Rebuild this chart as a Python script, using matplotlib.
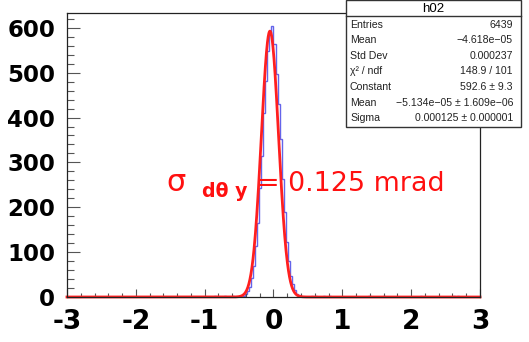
import numpy as np
import matplotlib
matplotlib.use("Agg")
import matplotlib.pyplot as plt
from matplotlib.patches import Rectangle
from matplotlib.lines import Line2D

plt.rcParams['axes.unicode_minus'] = False

# histogram binning (mrad), 200 bins
bin_edges = np.linspace(-3, 3, 201)

# bins around the peak: centers and counts
peak_centers = [-0.555, -0.525, -0.495, -0.465, -0.435, -0.405, -0.375, -0.345,
                -0.315, -0.285, -0.255, -0.225, -0.195, -0.165, -0.135, -0.105,
                -0.075, -0.045, -0.015, 0.015, 0.045, 0.075, 0.105, 0.135,
                0.165, 0.195, 0.225, 0.255, 0.285, 0.315, 0.345, 0.375,
                0.405, 0.435, 0.465]
peak_counts = [0, 0, 1, 1, 3, 6, 13, 22,
               43, 68, 114, 165, 242, 315, 410, 482,
               548, 584, 603, 565, 498, 430, 352, 262,
               190, 122, 81, 47, 28, 15, 7, 4,
               2, 1, 1]

# a few small tail bins
tail_centers = [-0.855, -0.705, -0.585, 0.555, 0.615, 0.735, 0.825,
                1.395, 1.605, 2.145, 2.625, 2.685]
tail_counts = [2, 3, 2, 3, 2, 3, 2, 2, 2, 2, 3, 2]

# gaus fit parameters from the stats box (converted to mrad)
fit_const = 592.6
fit_mean = -5.134e-05 * 1000
fit_sigma = 0.000125 * 1000

# stats box rows
stat_names = ["Entries", "Mean", "Std Dev", "χ² / ndf", "Constant", "Mean", "Sigma"]
stat_values = ["6439", "−4.618e−05", "0.000237", "148.9 / 101", "592.6 ± 9.3",
               "−5.134e−05 ± 1.609e−06", "0.000125 ± 0.000001"]

x_ticks = [-3, -2, -1, 0, 1, 2, 3]
y_ticks = [0, 100, 200, 300, 400, 500, 600]

W, H = 529, 342


def fx(px):
    # pixel -> figure fraction
    return px / W


def fy(py):
    return 1 - py / H


fig = plt.figure(figsize=(W / 100, H / 100), dpi=100)
ax = fig.add_axes([fx(67), fy(297), fx(480) - fx(67), fy(13) - fy(297)])

counts, _ = np.histogram(peak_centers + tail_centers, bins=bin_edges,
                         weights=peak_counts + tail_counts)
ax.stairs(counts, bin_edges, color='#6464ea', lw=1.0)

xf = np.linspace(-3, 3, 1200)
yf = fit_const * np.exp(-0.5 * ((xf - fit_mean) / fit_sigma) ** 2)
ax.plot(xf, yf, color='#ff1f1f', lw=2.0, clip_on=False)

ax.set_xlim(-3, 3)
ax.set_ylim(0, 633)

# ROOT style ticks
ax.set_xticks(x_ticks)
ax.set_xticks(np.arange(-3, 3.01, 0.2), minor=True)
ax.set_yticks(y_ticks)
ax.set_yticks(np.arange(0, 633, 20), minor=True)
ax.set_xticklabels([str(t) for t in x_ticks])
ax.set_yticklabels([str(t) for t in y_ticks])
ax.tick_params(axis='both', which='both', direction='in', color='#555555', width=0.8)
ax.tick_params(axis='x', which='major', length=5.8, pad=8.6)
ax.tick_params(axis='x', which='minor', length=2.9)
ax.tick_params(axis='y', which='major', length=9.2, pad=8.4)
ax.tick_params(axis='y', which='minor', length=5.2)
for lab in ax.get_xticklabels():
    lab.set_fontfamily('DejaVu Sans')
    lab.set_fontweight('bold')
    lab.set_fontsize(19)
for lab in ax.get_yticklabels():
    lab.set_fontfamily('DejaVu Sans')
    lab.set_fontweight('bold')
    lab.set_fontsize(16.5)
for sp in ax.spines.values():
    sp.set_linewidth(0.9)
    sp.set_color('#222222')

# red annotation
fig.text(fx(166), fy(191), "σ", color='#ff1010', fontsize=22, family='DejaVu Sans',
         va='baseline', zorder=5)
fig.text(fx(202), fy(197), "dθ y", color='#ff1010', fontsize=13.6, family='DejaVu Sans',
         fontweight='bold', va='baseline', zorder=5)
fig.text(fx(257), fy(191), "= 0.125 mrad", color='#ff1010', fontsize=19.4,
         family='DejaVu Sans', va='baseline', zorder=5)

# stats box
bx0, bx1, by0, by1 = 346, 521, 0, 127
fig.add_artist(Rectangle((fx(bx0), fy(by1)), fx(bx1) - fx(bx0), fy(by0) - fy(by1),
                         transform=fig.transFigure, facecolor='white',
                         edgecolor='#333333', lw=1.0, zorder=6))
fig.add_artist(Line2D([fx(bx0), fx(bx1)], [fy(16), fy(16)], transform=fig.transFigure,
                      color='#333333', lw=1.0, zorder=7))
fig.text(fx((bx0 + bx1) / 2), fy(8.5), "h02", ha='center', va='center', fontsize=9.5,
         family='Liberation Sans', zorder=8)
for i in range(len(stat_names)):
    yy = 24.5 + 15.6 * i
    fig.text(fx(350), fy(yy), stat_names[i], ha='left', va='center', fontsize=7.6,
             family='Liberation Sans', color='#222222', zorder=8)
    fig.text(fx(513), fy(yy), stat_values[i], ha='right', va='center', fontsize=7.6,
             family='Liberation Sans', color='#222222', zorder=8)

fig.savefig("out.png", dpi=100)
